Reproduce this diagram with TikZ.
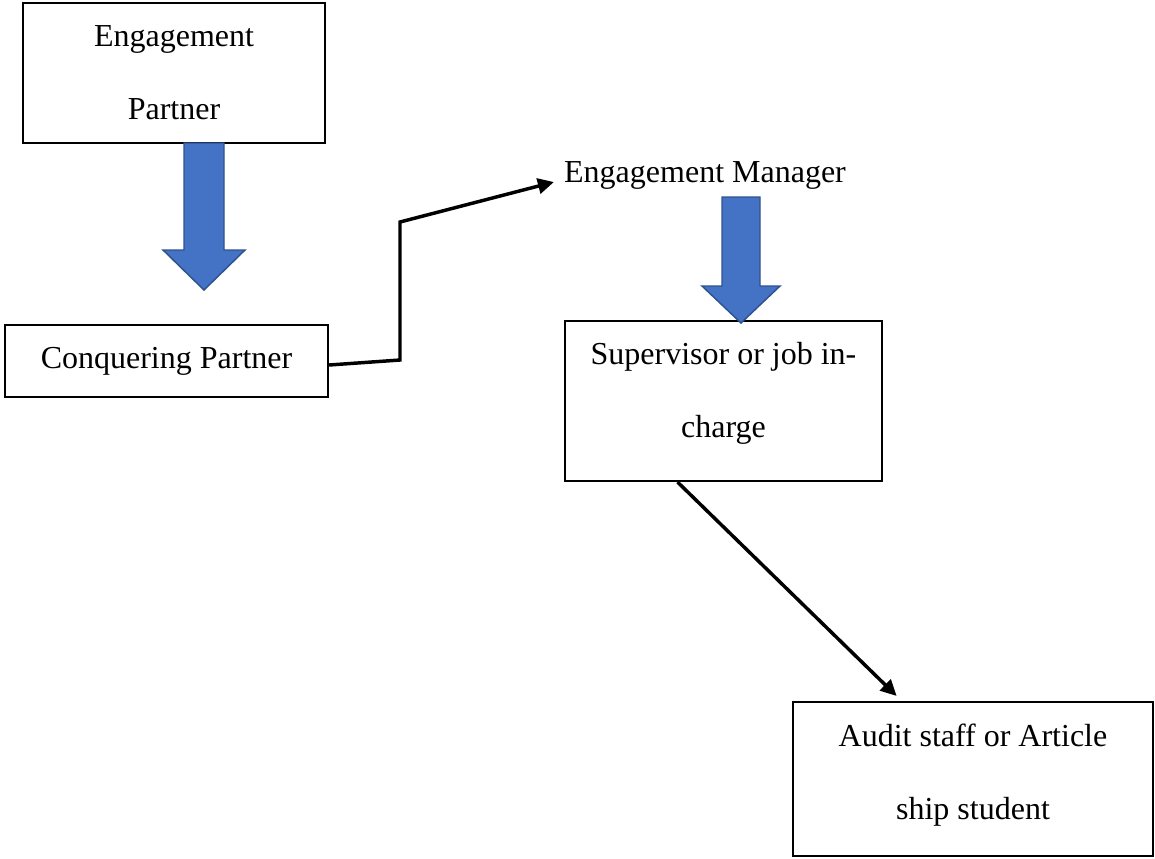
\documentclass[tikz,border=0pt]{standalone}
\usepackage{fontspec}
\setmainfont{Liberation Serif}
\usetikzlibrary{arrows.meta,calc}

\definecolor{arrowblue}{HTML}{4472C4}
\definecolor{arrowedge}{HTML}{2F528F}

\tikzset{
  box/.style={draw, line width=1.6pt, align=center, inner sep=0pt,
    font=\fontsize{24}{54.75}\selectfont},
  link/.style={line width=2.6pt, -{Triangle[length=12pt,width=11.5pt]}},
  blockarrow/.style={fill=arrowblue, draw=arrowedge, line width=1.1pt, line join=miter},
}

\begin{document}
\begin{tikzpicture}[x=0.75pt,y=-0.75pt]
  \useasboundingbox (0,0) rectangle (1155,858);

        % boxes
  \node[box, minimum width=226.5pt, minimum height=105pt] (partner) at (174,73) {Engagement\\Partner};
  \node[box, minimum width=242.25pt, minimum height=54pt] (conq) at (166.5,361) {Conquering Partner};
  \node[font=\fontsize{24}{54.75}\selectfont, inner sep=7.5pt] (manager) at (705,175) {Engagement Manager};
  \node[box, minimum width=237.75pt, minimum height=120pt] (super) at (723.5,401)
    {Supervisor or job in-\\charge\rule[-16pt]{0pt}{16pt}};
  \node[box, minimum width=270pt, minimum height=115.5pt] (audit) at (973,779)
    {Audit staff or Article\\ship student\rule[-11pt]{0pt}{11pt}};

        % block arrows
  \draw[blockarrow] (184,143) -- (184,250) -- (163,250) -- (204,290)
    -- (245,250) -- (224,250) -- (224,143) -- cycle;
  \draw[blockarrow] (722,197) -- (722,286) -- (702,286) -- (741,323)
    -- (780,286) -- (760,286) -- (760,197) -- cycle;

        % connectors
  \coordinate (bendlow) at (400,360);
  \coordinate (bendhigh) at (400,222);
  \draw[link] ([yshift=-3pt]conq.east) -- (bendlow) -- (bendhigh) -- (manager.base west);
  \draw[link] ($(super.south west)!0.356!(super.south east)$)
    -- ($(audit.north west)!0.289!(audit.north east)+(0,-5)$);

\end{tikzpicture}
\end{document}
